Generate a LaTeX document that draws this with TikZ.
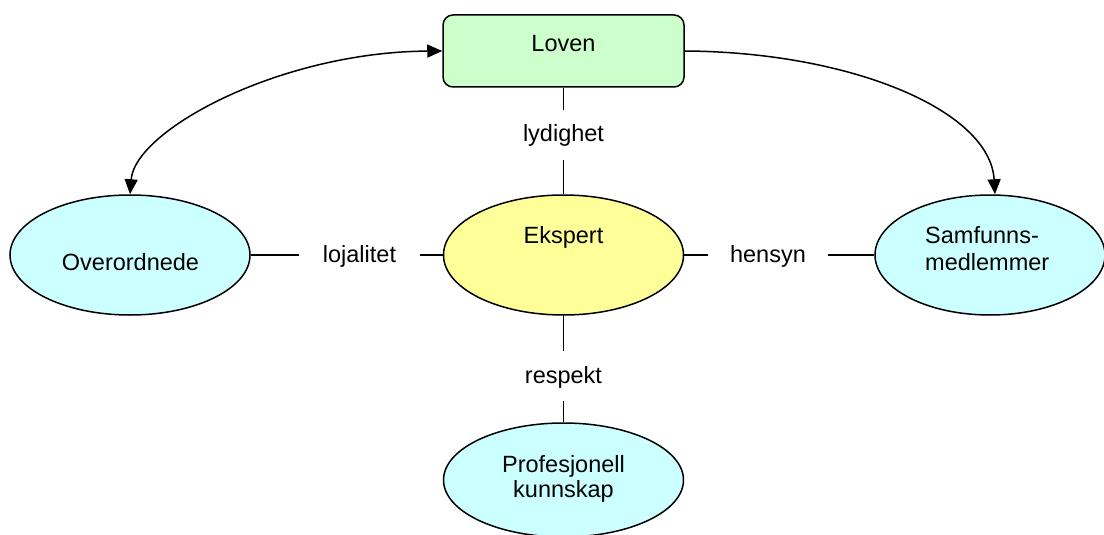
\documentclass[tikz,border=0pt]{standalone}
\usepackage{fontspec}
\setmainfont{Liberation Sans}
\usetikzlibrary{arrows.meta,shapes.geometric}

\definecolor{lawgreen}{HTML}{CCFFCC}
\definecolor{expertyellow}{HTML}{FFFF99}
\definecolor{partycyan}{HTML}{CCFFFF}

\tikzset{
  txt/.style={font=\fontsize{23.5}{27}\selectfont, inner sep=0pt},
  blob/.style={ellipse, draw, line width=1.5pt, inner sep=0pt,
               minimum width=240pt, minimum height=120pt},
  lawbox/.style={rectangle, rounded corners=10pt, draw, line width=1.5pt,
                 fill=lawgreen, minimum width=241pt, minimum height=72pt, inner sep=0pt},
  relation/.style={txt, text height=17pt, text depth=3pt},
  link/.style={line width=1.5pt},
}

\begin{document}
\begin{tikzpicture}[x=1pt, y=-1pt, >={Triangle[length=15pt, width=13pt]}]
  \useasboundingbox (0,0) rectangle (1104,535);

  % shapes
  \node[lawbox] (loven) at (563.5,51) {};
  \node[blob, fill=expertyellow] (ekspert) at (563.5,255) {};
  \node[blob, fill=partycyan] (over) at (130,255) {};
  \node[blob, fill=partycyan, minimum width=230pt] (samf) at (990,255) {};
  \node[blob, fill=partycyan, minimum height=114pt] (prof) at (563.5,480) {};

  % texts inside the shapes
  \node[txt, anchor=base] (loven-t) at (563.5,52) {Loven};
  \node[txt, anchor=base] (ekspert-t) at (563.5,243) {Ekspert};
  \node[txt, anchor=base] (over-t) at (130.5,270) {Overordnede};
  \node[txt, anchor=base west] (samf-t1) at (925,243) {Samfunns-};
  \node[txt, anchor=base west] (samf-t2) at (925,270) {medlemmer};
  \node[txt, anchor=base] (prof-t1) at (563.5,472) {Profesjonell};
  \node[txt, anchor=base] (prof-t2) at (563.5,497) {kunnskap};

  % relation labels (their size leaves the gap in each connector)
  \node[relation, minimum height=50pt] (lyd) at (563.5,135) {lydighet};
  \node[relation, minimum width=121pt] (loj) at (359.5,255) {lojalitet};
  \node[relation, minimum width=120pt] (hen) at (768,255) {hensyn};
  \node[relation, minimum height=50pt] (resp) at (563.5,376) {respekt};

  % connectors through the labels
  \draw[link] (loven) -- (lyd);
  \draw[link] (lyd) -- (ekspert);
  \draw[link] (over) -- (loj);
  \draw[link] (loj) -- (ekspert);
  \draw[link] (ekspert) -- (hen);
  \draw[link] (hen) -- (samf);
  \draw[link] (ekspert) -- (resp);
  \draw[link] (resp) -- (prof);

  % curved arrows from the law
  \draw[link, <->] (loven.west) .. controls (280,52) and (135,130) .. (over.north);
  \draw[link, ->] (loven.east) .. controls (850,52) and (990,110) .. ([xshift=5pt]samf.north);
\end{tikzpicture}
\end{document}
